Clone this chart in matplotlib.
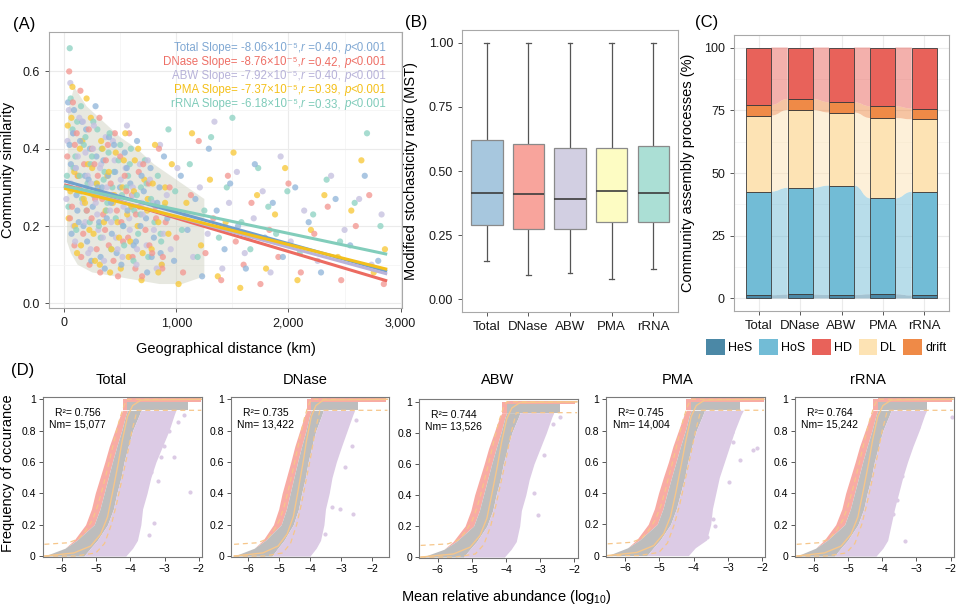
import numpy as np
import matplotlib.pyplot as plt
from matplotlib.patches import Patch, PathPatch
from matplotlib.path import Path
from matplotlib.offsetbox import TextArea, HPacker, AnchoredOffsetbox
from matplotlib.ticker import FuncFormatter, FormatStrFormatter

plt.rcParams['font.family'] = ['Liberation Sans', 'DejaVu Sans']
plt.rcParams['mathtext.fontset'] = 'custom'
plt.rcParams['mathtext.rm'] = 'Liberation Sans'
plt.rcParams['mathtext.it'] = 'Liberation Sans:italic'

GROUPS = ["Total", "DNase", "ABW", "PMA", "rRNA"]

# ---------------- (A) distance-decay scatter ----------------
TOTAL_X = [35, 60, 80, 110, 130, 160, 185, 205, 230, 255, 280, 300, 325, 350, 380, 400, 425, 455, 480, 510,
           540, 565, 590, 620, 650, 680, 710, 740, 770, 800, 830, 860, 890, 920,
           980, 1040, 1100, 1170, 1230, 1290, 1360, 1430, 1480, 1550, 1620, 1700, 1790, 1860, 1950, 2060,
           2180, 2290, 2420, 2550, 2680, 2800,
           22, 48, 66, 88, 102, 118, 142, 155, 172, 196, 218, 242, 262, 288, 312, 338, 362, 392, 418, 445,
           468, 498, 528, 558, 600, 640, 690, 730, 780, 850]
TOTAL_Y = [0.52, 0.36, 0.44, 0.28, 0.21, 0.47, 0.33, 0.16, 0.40, 0.25, 0.51, 0.30, 0.12, 0.37, 0.22, 0.43, 0.18, 0.34, 0.27, 0.10,
           0.39, 0.24, 0.31, 0.15, 0.42, 0.20, 0.29, 0.08, 0.35, 0.17, 0.26, 0.13, 0.38, 0.22,
           0.11, 0.33, 0.19, 0.27, 0.07, 0.40, 0.24, 0.14, 0.31, 0.20, 0.09, 0.36, 0.17, 0.26, 0.12, 0.30,
           0.21, 0.08, 0.27, 0.15, 0.33, 0.11,
           0.30, 0.41, 0.18, 0.50, 0.35, 0.24, 0.42, 0.29, 0.20, 0.45, 0.32, 0.11, 0.28, 0.38, 0.21, 0.30, 0.09, 0.33, 0.26, 0.41,
           0.13, 0.30, 0.20, 0.35, 0.25, 0.16, 0.33, 0.22, 0.12, 0.30]
DNASE_X = [45, 70, 95, 120, 145, 170, 195, 220, 245, 270, 290, 315, 340, 365, 390, 415, 440, 470, 500, 525,
           555, 580, 610, 640, 665, 695, 725, 755, 785, 815, 845, 875, 905, 940,
           1000, 1060, 1130, 1200, 1260, 1330, 1400, 1460, 1530, 1600, 1670, 1750, 1830, 1910, 2000, 2110,
           2230, 2350, 2470, 2600, 2720, 2850,
           28, 52, 78, 92, 112, 132, 152, 178, 202, 226, 250, 276, 300, 322, 348, 372, 398, 428, 452, 480,
           510, 540, 570, 605, 635, 670, 705, 760, 820, 880]
DNASE_Y = [0.60, 0.25, 0.41, 0.33, 0.55, 0.18, 0.29, 0.45, 0.22, 0.36, 0.14, 0.48, 0.27, 0.19, 0.41, 0.31, 0.11, 0.24, 0.38, 0.16,
           0.29, 0.44, 0.12, 0.23, 0.34, 0.07, 0.19, 0.31, 0.13, 0.25, 0.40, 0.09, 0.21, 0.30,
           0.17, 0.08, 0.28, 0.42, 0.13, 0.22, 0.06, 0.33, 0.16, 0.10, 0.26, 0.05, 0.19, 0.12, 0.31, 0.08,
           0.18, 0.25, 0.06, 0.20, 0.28, 0.05,
           0.38, 0.22, 0.52, 0.15, 0.44, 0.30, 0.12, 0.36, 0.24, 0.10, 0.40, 0.27, 0.33, 0.08, 0.23, 0.37, 0.15, 0.28, 0.44, 0.07,
           0.21, 0.33, 0.17, 0.28, 0.09, 0.25, 0.36, 0.15, 0.22, 0.12]
ABW_X = [30, 55, 85, 105, 135, 165, 190, 215, 240, 265, 295, 320, 345, 370, 395, 420, 450, 475, 505, 530,
         560, 585, 615, 645, 675, 700, 735, 765, 795, 825, 855, 885, 915, 950,
         1010, 1080, 1150, 1210, 1280, 1340, 1410, 1470, 1540, 1610, 1690, 1770, 1840, 1930, 2020, 2140,
         2260, 2380, 2500, 2630, 2740, 2830,
         20, 42, 62, 80, 98, 122, 148, 168, 188, 210, 236, 258, 282, 305, 330, 356, 380, 410, 435, 462,
         490, 520, 548, 580, 612, 650, 695, 745, 800, 870]
ABW_Y = [0.42, 0.57, 0.20, 0.35, 0.48, 0.26, 0.39, 0.13, 0.31, 0.46, 0.23, 0.35, 0.17, 0.43, 0.28, 0.21, 0.37, 0.14, 0.32, 0.25,
         0.46, 0.19, 0.28, 0.10, 0.36, 0.23, 0.15, 0.32, 0.26, 0.09, 0.41, 0.18, 0.28, 0.14,
         0.35, 0.23, 0.12, 0.30, 0.18, 0.47, 0.09, 0.26, 0.34, 0.13, 0.22, 0.29, 0.08, 0.38, 0.16, 0.24,
         0.11, 0.33, 0.19, 0.27, 0.10, 0.23,
         0.27, 0.50, 0.31, 0.44, 0.16, 0.38, 0.29, 0.47, 0.21, 0.33, 0.14, 0.40, 0.26, 0.19, 0.36, 0.11, 0.30, 0.24, 0.42, 0.17,
         0.27, 0.12, 0.35, 0.22, 0.30, 0.14, 0.26, 0.37, 0.19, 0.10]
PMA_X = [40, 65, 90, 115, 140, 175, 200, 225, 250, 275, 305, 330, 355, 385, 410, 435, 460, 490, 520, 545,
         575, 600, 630, 655, 690, 715, 745, 780, 810, 840, 870, 900, 930, 960,
         1020, 1090, 1140, 1220, 1300, 1370, 1440, 1510, 1570, 1640, 1720, 1800, 1880, 1970, 2080, 2200,
         2320, 2440, 2560, 2650, 2760, 2860,
         32, 56, 74, 96, 124, 150, 162, 186, 212, 238, 262, 292, 318, 342, 370, 398, 422, 448, 476, 505,
         532, 562, 590, 622, 660, 700, 740, 790, 840, 900]
PMA_Y = [0.22, 0.48, 0.34, 0.13, 0.40, 0.27, 0.53, 0.19, 0.35, 0.11, 0.29, 0.42, 0.21, 0.33, 0.08, 0.26, 0.39, 0.17, 0.30, 0.44,
         0.12, 0.25, 0.37, 0.20, 0.06, 0.32, 0.27, 0.14, 0.41, 0.21, 0.10, 0.30, 0.18, 0.36,
         0.05, 0.26, 0.44, 0.15, 0.32, 0.07, 0.21, 0.39, 0.04, 0.17, 0.28, 0.09, 0.23, 0.35, 0.06, 0.19,
         0.28, 0.12, 0.24, 0.37, 0.08, 0.14,
         0.46, 0.29, 0.56, 0.20, 0.33, 0.15, 0.42, 0.26, 0.36, 0.48, 0.18, 0.31, 0.10, 0.40, 0.24, 0.34, 0.14, 0.28, 0.21, 0.09,
         0.37, 0.23, 0.16, 0.29, 0.40, 0.13, 0.24, 0.31, 0.08, 0.26]
RRNA_X = [25, 50, 75, 100, 125, 150, 175, 200, 235, 260, 285, 310, 335, 360, 385, 405, 430, 460, 485, 515,
          535, 570, 595, 625, 660, 685, 720, 750, 775, 805, 835, 865, 895, 930,
          990, 1050, 1120, 1190, 1250, 1310, 1380, 1450, 1500, 1580, 1660, 1730, 1820, 1890, 1990, 2100,
          2220, 2340, 2460, 2590, 2700, 2820,
          38, 58, 84, 108, 116, 138, 160, 190, 208, 228, 248, 270, 296, 326, 352, 378, 396, 420, 444, 472,
          500, 525, 555, 585, 618, 648, 680, 735, 790, 860]
RRNA_Y = [0.33, 0.66, 0.45, 0.38, 0.29, 0.51, 0.41, 0.24, 0.36, 0.47, 0.31, 0.20, 0.40, 0.34, 0.26, 0.44, 0.30, 0.22, 0.37, 0.28,
          0.15, 0.33, 0.40, 0.24, 0.18, 0.30, 0.37, 0.12, 0.27, 0.21, 0.33, 0.16, 0.25, 0.45,
          0.29, 0.19, 0.36, 0.12, 0.24, 0.43, 0.17, 0.30, 0.48, 0.21, 0.14, 0.35, 0.25, 0.18, 0.29, 0.13,
          0.23, 0.32, 0.16, 0.26, 0.44, 0.20,
          0.25, 0.53, 0.35, 0.19, 0.47, 0.33, 0.27, 0.43, 0.31, 0.21, 0.38, 0.28, 0.45, 0.17, 0.32, 0.24, 0.39, 0.14, 0.34, 0.27,
          0.41, 0.20, 0.30, 0.36, 0.11, 0.28, 0.23, 0.31, 0.26, 0.18]

# outline of the dense core of the point cloud
CLOUD_X = [25, 35, 90, 200, 350, 500, 650, 800, 950, 1100, 1250, 1250, 1050, 850, 650, 450, 250, 120, 60, 25]
CLOUD_Y = [0.16, 0.50, 0.56, 0.51, 0.47, 0.43, 0.40, 0.36, 0.33, 0.30, 0.27, 0.07, 0.05, 0.05, 0.06, 0.07, 0.08, 0.10, 0.13, 0.16]

# fitted lines, read at both ends (km)
LINE_X = [0, 2880]
LINE_START = [0.317, 0.307, 0.303, 0.298, 0.304]
LINE_END = [0.083, 0.058, 0.076, 0.088, 0.127]
SLOPE_TXT = ["-8.06", "-8.76", "-7.92", "-7.37", "-6.18"]
R_TXT = ["0.40", "0.42", "0.40", "0.39", "0.33"]

POINT_COLORS = ["#93b7da", "#f39892", "#c6c1e0", "#f8c93a", "#8fd3c3"]
LINE_COLORS = ["#6f9fcc", "#ec6b61", "#b9b3d9", "#f3bf1c", "#82cdbb"]
TEXT_COLORS = ["#80a8d3", "#ee6f66", "#b7b2d9", "#f4c01a", "#7ecbb9"]

# ---------------- (B) MST boxplots ----------------
BOX_LO = [0.150, 0.094, 0.104, 0.078, 0.116]
BOX_Q1 = [0.289, 0.272, 0.272, 0.300, 0.300]
BOX_MED = [0.414, 0.411, 0.390, 0.421, 0.416]
BOX_Q3 = [0.620, 0.604, 0.588, 0.588, 0.598]
BOX_HI = [1.0, 1.0, 1.0, 1.0, 1.0]
BOX_COLORS = ["#a7c7de", "#f8a49c", "#d2cfe2", "#fdfcc3", "#abdfd5"]

# ---------------- (C) assembly processes (%) ----------------
PROCESSES = ["HeS", "HoS", "DL", "drift", "HD"]          # stacking order, bottom to top
HES = [1.3, 1.6, 1.4, 1.7, 1.2]
HOS = [41.3, 42.5, 43.6, 38.2, 41.3]
DL = [30.3, 31.0, 29.1, 32.0, 28.9]
DRIFT = [4.2, 4.4, 4.1, 4.7, 4.3]
HD = [22.9, 20.5, 21.8, 23.4, 24.3]
PROC_COLORS = {"HeS": "#4b88a6", "HoS": "#72bcd6", "HD": "#e8625a", "DL": "#fde3b4", "drift": "#ef8a47"}
LEGEND_ORDER = ["HeS", "HoS", "HD", "DL", "drift"]

# ---------------- (D) neutral community model ----------------
R2 = ["0.756", "0.735", "0.744", "0.745", "0.764"]
NM = ["15,077", "13,422", "13,526", "14,004", "15,242"]
D_XMAX = [-1.9, -1.45, -1.9, -1.92, -1.9]

BAND_Y = [0.0, 0.05, 0.1, 0.2, 0.3, 0.4, 0.5, 0.6, 0.7, 0.8, 0.9, 0.93]
PINK_LEFT = [
    [-6.50, -5.90, -5.64, -5.30, -5.13, -5.02, -4.88, -4.74, -4.61, -4.45, -4.29, -4.22],
    [-6.45, -5.80, -5.52, -5.18, -5.01, -4.90, -4.76, -4.62, -4.49, -4.33, -4.17, -4.10],
    [-6.45, -5.82, -5.55, -5.20, -5.03, -4.92, -4.78, -4.64, -4.51, -4.35, -4.19, -4.12],
    [-6.50, -5.92, -5.66, -5.32, -5.14, -5.02, -4.88, -4.73, -4.60, -4.44, -4.28, -4.21],
    [-6.50, -5.95, -5.70, -5.36, -5.18, -5.07, -4.93, -4.79, -4.66, -4.50, -4.34, -4.27],
]
GRAY_LEFT = [
    [-6.50, -5.90, -5.56, -5.05, -4.88, -4.76, -4.64, -4.52, -4.39, -4.25, -4.13, -4.08],
    [-6.45, -5.80, -5.44, -4.93, -4.76, -4.64, -4.52, -4.40, -4.27, -4.13, -4.01, -3.96],
    [-6.45, -5.82, -5.46, -4.95, -4.78, -4.66, -4.54, -4.42, -4.29, -4.15, -4.03, -3.98],
    [-6.50, -5.92, -5.57, -5.06, -4.89, -4.77, -4.64, -4.51, -4.38, -4.24, -4.12, -4.07],
    [-6.50, -5.95, -5.61, -5.10, -4.93, -4.81, -4.69, -4.57, -4.44, -4.30, -4.18, -4.13],
]
GRAY_RIGHT = [
    [-5.35, -5.16, -4.96, -4.66, -4.49, -4.39, -4.27, -4.18, -4.06, -3.93, -3.74, -3.69],
    [-5.23, -5.04, -4.84, -4.54, -4.37, -4.27, -4.15, -4.06, -3.94, -3.81, -3.62, -3.57],
    [-5.25, -5.06, -4.86, -4.56, -4.39, -4.29, -4.17, -4.08, -3.96, -3.83, -3.64, -3.59],
    [-5.36, -5.17, -4.97, -4.67, -4.50, -4.38, -4.26, -4.17, -4.05, -3.92, -3.73, -3.68],
    [-5.40, -5.21, -5.01, -4.71, -4.54, -4.44, -4.32, -4.23, -4.11, -3.98, -3.79, -3.74],
]
PURPLE_RIGHT = [
    [-4.13, -3.93, -3.79, -3.69, -3.64, -3.51, -3.40, -3.25, -3.06, -2.87, -2.72, -2.67],
    [-4.00, -3.80, -3.66, -3.55, -3.50, -3.38, -3.29, -3.15, -2.98, -2.80, -2.62, -2.56],
    [-4.05, -3.85, -3.70, -3.60, -3.55, -3.42, -3.32, -3.18, -3.00, -2.82, -2.66, -2.60],
    [-4.15, -3.95, -3.62, -3.50, -3.45, -3.35, -3.25, -3.10, -2.95, -2.80, -2.62, -2.55],
    [-4.18, -3.98, -3.84, -3.74, -3.64, -3.52, -3.40, -3.26, -3.10, -2.92, -2.76, -2.70],
]
TOP_GRAY_END = [-2.32, -2.45, -2.41, -2.64, -2.70]
TOP_PINK_END = [-1.93, -1.54, -1.97, -1.96, -1.97]

FIT_Y = [0.0, 0.02, 0.064, 0.14, 0.25, 0.40, 0.59, 0.74, 0.89, 0.96, 0.995, 1.0]
FIT_X = [
    [-6.50, -5.64, -5.15, -4.86, -4.66, -4.52, -4.35, -4.23, -4.08, -3.93, -3.69, -1.93],
    [-6.45, -5.52, -5.03, -4.74, -4.54, -4.40, -4.23, -4.11, -3.96, -3.81, -3.57, -1.50],
    [-6.50, -5.54, -5.05, -4.76, -4.56, -4.42, -4.25, -4.13, -3.98, -3.83, -3.59, -1.92],
    [-6.50, -5.65, -5.16, -4.87, -4.67, -4.52, -4.35, -4.22, -4.07, -3.92, -3.68, -1.95],
    [-6.50, -5.69, -5.20, -4.91, -4.71, -4.57, -4.40, -4.28, -4.13, -3.98, -3.74, -1.93],
]
UPPER_Y = [0.075, 0.085, 0.11, 0.16, 0.23, 0.32, 0.42, 0.54, 0.65, 0.78, 0.88, 0.96, 1.0, 1.0]
UPPER_X = [
    [-6.50, -5.80, -5.50, -5.30, -5.10, -4.95, -4.82, -4.68, -4.56, -4.42, -4.30, -4.18, -4.08, -1.93],
    [-6.45, -5.68, -5.38, -5.18, -4.98, -4.83, -4.70, -4.56, -4.44, -4.30, -4.18, -4.06, -3.96, -1.50],
    [-6.50, -5.70, -5.40, -5.20, -5.00, -4.85, -4.72, -4.58, -4.46, -4.32, -4.20, -4.08, -3.98, -1.92],
    [-6.50, -5.80, -5.51, -5.31, -5.11, -4.95, -4.82, -4.68, -4.55, -4.41, -4.29, -4.17, -4.07, -1.95],
    [-6.50, -5.85, -5.55, -5.35, -5.15, -5.00, -4.87, -4.73, -4.61, -4.47, -4.35, -4.23, -4.13, -1.93],
]
LOWER_Y = [0.0, 0.0, 0.02, 0.08, 0.2, 0.33, 0.48, 0.63, 0.8, 0.93, 0.93]
LOWER_X = [
    [-6.50, -5.60, -5.00, -4.75, -4.55, -4.40, -4.25, -4.10, -3.95, -3.80, -1.93],
    [-6.45, -5.48, -4.88, -4.63, -4.43, -4.28, -4.13, -3.98, -3.83, -3.68, -1.50],
    [-6.50, -5.50, -4.90, -4.65, -4.45, -4.30, -4.15, -4.00, -3.85, -3.70, -1.92],
    [-6.50, -5.61, -5.01, -4.76, -4.56, -4.40, -4.25, -4.10, -3.94, -3.79, -1.95],
    [-6.50, -5.65, -5.05, -4.80, -4.60, -4.45, -4.30, -4.15, -4.00, -3.85, -1.93],
]
OUT_X = [
    [-2.27, -2.72, -3.01, -2.87, -3.40, -3.20, -3.30, -3.45, -3.10, -2.62, -2.42],
    [-2.60, -3.03, -3.29, -3.19, -2.66, -2.87, -3.50, -3.34, -2.50],
    [-3.05, -3.39, -2.90, -2.61, -2.41, -3.19, -3.58, -3.77],
    [-2.27, -2.16, -2.84, -2.98, -3.42, -3.37, -3.62, -2.64, -2.89],
    [-1.97, -3.33, -3.18, -2.94, -3.67, -3.57, -3.43, -3.28],
]
OUT_Y = [
    [0.407, 0.63, 0.70, 0.80, 0.535, 0.48, 0.21, 0.137, 0.63, 0.857, 0.90],
    [0.268, 0.30, 0.31, 0.674, 0.70, 0.567, 0.14, 0.80, 0.867],
    [0.27, 0.62, 0.655, 0.86, 0.90, 0.41, 0.56, 0.73],
    [0.675, 0.69, 0.73, 0.47, 0.235, 0.19, 0.118, 0.61, 0.79],
    [0.885, 0.096, 0.75, 0.825, 0.27, 0.36, 0.51, 0.70],
]

W, H = 960, 613


def box(left, top, right, bottom):
    return [left / W, 1 - bottom / H, (right - left) / W, (bottom - top) / H]


fig = plt.figure(figsize=(9.6, 6.13), dpi=100)

# ===== (A) =====
axA = fig.add_axes(box(49, 32, 402, 308))
axA.fill(CLOUD_X, CLOUD_Y, color="#d0d3c2", alpha=0.5, lw=0, zorder=1)
series = [(TOTAL_X, TOTAL_Y), (DNASE_X, DNASE_Y), (ABW_X, ABW_Y), (PMA_X, PMA_Y), (RRNA_X, RRNA_Y)]
all_x, all_y, all_c = [], [], []
for (xs, ys), col in zip(series, POINT_COLORS):
    all_x += xs
    all_y += ys
    all_c += [col] * len(xs)
# draw all groups in one pass with a shuffled (but fixed) order so colours mix
order = np.argsort(np.array(all_x) * 7 % 997)
axA.scatter(np.array(all_x)[order], np.array(all_y)[order], s=20,
            c=[all_c[i] for i in order], alpha=0.78, lw=0, zorder=2)
for i in range(5):
    axA.plot(LINE_X, [LINE_START[i], LINE_END[i]], color=LINE_COLORS[i], lw=2.2,
             solid_capstyle="butt", zorder=3)
text_y = [0.943, 0.891, 0.841, 0.790, 0.738]
for i, g in enumerate(GROUPS):
    col = TEXT_COLORS[i]
    parts = [(f"{g} Slope= {SLOPE_TXT[i]}×10⁻⁵,", "normal"), ("r", "italic"),
             (f" ={R_TXT[i]}, ", "normal"), ("p", "italic"), ("<0.001", "normal")]
    areas = [TextArea(t, textprops=dict(color=col, fontsize=8.3, style=st)) for t, st in parts]
    pack = HPacker(children=areas, align="baseline", pad=0, sep=0)
    anch = AnchoredOffsetbox(loc="center right", child=pack, pad=0, borderpad=0, frameon=False,
                             bbox_to_anchor=(0.955, text_y[i]), bbox_transform=axA.transAxes)
    anch.set_zorder(4)
    axA.add_artist(anch)
axA.set_xlim(-135, 3012)
axA.set_ylim(-0.012, 0.702)
axA.set_xticks([0, 1000, 2000, 3000])
axA.set_xticks([500, 1500, 2500], minor=True)
axA.set_yticks([0.0, 0.2, 0.4, 0.6])
axA.set_yticks([0.1, 0.3, 0.5], minor=True)
axA.xaxis.set_major_formatter(FuncFormatter(lambda v, p: f"{int(v):,}"))
axA.yaxis.set_major_formatter(FormatStrFormatter("%.1f"))
axA.grid(True, which="major", color="#ebebeb", lw=0.8)
axA.grid(True, which="minor", color="#f3f3f3", lw=0.5)
axA.tick_params(which="minor", length=0)
axA.set_axisbelow(True)
axA.set_xlabel("Geographical distance (km)", fontsize=10.5, labelpad=9)
axA.set_ylabel("Community similarity", fontsize=10.5)
axA.yaxis.set_label_coords((15 - 49) / 353, 0.5)

# ===== (B) =====
axB = fig.add_axes(box(462, 30, 678, 312))
stats = []
for i, g in enumerate(GROUPS):
    stats.append({"label": g, "whislo": BOX_LO[i], "q1": BOX_Q1[i], "med": BOX_MED[i],
                  "q3": BOX_Q3[i], "whishi": BOX_HI[i], "fliers": []})
bp = axB.bxp(stats, positions=range(1, 6), widths=0.75, patch_artist=True, showfliers=False,
             capwidths=0.12,
             boxprops=dict(edgecolor="#8a8a8a", lw=0.9),
             whiskerprops=dict(color="#555555", lw=0.9),
             capprops=dict(color="#555555", lw=0.9),
             medianprops=dict(color="#3c3c3c", lw=1.2))
for patch, col in zip(bp["boxes"], BOX_COLORS):
    patch.set_facecolor(col)
for w in bp["whiskers"]:
    w.set_zorder(0.5)
axB.set_xlim(0.4, 5.6)
axB.set_ylim(-0.05, 1.05)
axB.set_yticks([0, 0.25, 0.5, 0.75, 1.0])
axB.yaxis.set_major_formatter(FormatStrFormatter("%.2f"))
axB.set_ylabel("Modified stochasticity ratio (MST)", fontsize=10.5)
axB.yaxis.set_label_coords((418 - 462) / 216, 0.5)

# ===== (C) =====
axC = fig.add_axes(box(734, 35, 949, 311))
layers = {"HeS": HES, "HoS": HOS, "DL": DL, "drift": DRIFT, "HD": HD}
xpos = [1, 2, 3, 4, 5]
bar_w = 0.6
bottom = [0.0] * 5
for name in PROCESSES:
    vals = layers[name]
    tops = [b + v for b, v in zip(bottom, vals)]
    col = PROC_COLORS[name]
    for i in range(4):
        x0, x1 = xpos[i] + bar_w / 2, xpos[i + 1] - bar_w / 2
        xm = (x0 + x1) / 2
        verts = [(x0, bottom[i]), (xm, bottom[i]), (xm, bottom[i + 1]), (x1, bottom[i + 1]),
                 (x1, tops[i + 1]), (xm, tops[i + 1]), (xm, tops[i]), (x0, tops[i]), (x0, bottom[i])]
        codes = [Path.MOVETO, Path.CURVE4, Path.CURVE4, Path.CURVE4,
                 Path.LINETO, Path.CURVE4, Path.CURVE4, Path.CURVE4, Path.CLOSEPOLY]
        axC.add_patch(PathPatch(Path(verts, codes), facecolor=col, alpha=0.5, lw=0, zorder=1))
    axC.bar(xpos, vals, bottom=bottom, width=bar_w, color=col, edgecolor="#3a3a3a",
            lw=0.6, zorder=2)
    bottom = tops
axC.set_xlim(0.4, 5.6)
axC.set_ylim(-5, 105)
axC.set_xticks(xpos)
axC.set_xticklabels(GROUPS)
axC.set_yticks([0, 25, 50, 75, 100])
axC.set_yticks([12.5, 37.5, 62.5, 87.5], minor=True)
axC.grid(True, which="major", color="#ebebeb", lw=0.8)
axC.grid(True, which="minor", axis="y", color="#f3f3f3", lw=0.5)
axC.tick_params(which="minor", length=0)
axC.set_axisbelow(True)
axC.set_ylabel("Community assembly processes (%)", fontsize=10.5)
axC.yaxis.set_label_coords((695 - 734) / 215, 0.5)
handles = [Patch(facecolor=PROC_COLORS[n], edgecolor="none", label=n) for n in LEGEND_ORDER]
fig.legend(handles=handles, loc="center", bbox_to_anchor=(826 / W, 1 - 347 / H), ncol=5,
           frameon=False, fontsize=9, handlelength=1.5, handleheight=1.5,
           handletextpad=0.25, columnspacing=0.55, borderaxespad=0)

for ax in (axA, axB, axC):
    for sp in ax.spines.values():
        sp.set_color("#a8a8a8")
        sp.set_linewidth(0.8)
    ax.tick_params(which="major", length=3, color="#555555", labelsize=9,
                   labelcolor="#1a1a1a", width=0.7)
axB.tick_params(axis="x", labelsize=9.5)
axC.tick_params(axis="x", labelsize=9.5)

# ===== (D) =====
d_boxes = [box(42.7, 396.5, 202.3, 557), box(231, 396.5, 389, 557), box(419, 399, 577.7, 558),
           box(606, 396.5, 765, 556.5), box(795, 396.5, 954, 557)]
title_x = [111, 305, 498, 678, 868]
pink, gray, purple, fitc = "#f8aba4", "#bdbdbd", "#dccbe5", "#f6c68a"
for k, g in enumerate(GROUPS):
    ax = fig.add_axes(d_boxes[k])
    ax.fill_betweenx(BAND_Y, PINK_LEFT[k], GRAY_LEFT[k], color=pink, lw=0)
    ax.fill_betweenx(BAND_Y, GRAY_LEFT[k], GRAY_RIGHT[k], color=gray, lw=0)
    ax.fill_betweenx(BAND_Y, GRAY_RIGHT[k], PURPLE_RIGHT[k], color=purple, lw=0)
    ax.fill_between([PINK_LEFT[k][-1], GRAY_LEFT[k][-1]], 0.93, 1.0, color=pink, lw=0)
    ax.fill_between([GRAY_LEFT[k][-1], TOP_GRAY_END[k]], 0.93, 0.985, color=gray, lw=0)
    ax.fill_between([GRAY_LEFT[k][-1], TOP_PINK_END[k]], 0.985, 1.008, color=pink, lw=0)
    ax.scatter(OUT_X[k], OUT_Y[k], s=9, color=purple, lw=0)
    ax.plot(FIT_X[k], FIT_Y, color=fitc, lw=1.0)
    ax.plot(UPPER_X[k], UPPER_Y, color=fitc, lw=0.9, ls=(0, (4, 3)))
    ax.plot(LOWER_X[k], LOWER_Y, color=fitc, lw=0.9, ls=(0, (4, 3)))
    ax.set_xlim(-6.55, D_XMAX[k])
    ax.set_ylim(-0.006, 1.018)
    ax.set_xticks([-6, -5, -4, -3, -2])
    ax.set_yticks([0, 0.2, 0.4, 0.6, 0.8, 1.0])
    ax.set_yticklabels(["0", "0.2", "0.4", "0.6", "0.8", "1"])
    ax.tick_params(length=3, labelsize=7.5, color="#555555", width=0.7, pad=2)
    for sp in ax.spines.values():
        sp.set_color("#7a7a7a")
        sp.set_linewidth(0.8)
    ax.text(0.22, 0.90, f"R²= {R2[k]}", transform=ax.transAxes, ha="center", va="center", fontsize=7.5)
    ax.text(0.22, 0.827, f"Nm= {NM[k]}", transform=ax.transAxes, ha="center", va="center", fontsize=7.5)
    fig.text(title_x[k] / W, 1 - 380 / H, g, ha="center", va="center", fontsize=10.5)

fig.text(8 / W, 1 - 473 / H, "Frequency of occurance", rotation=90, ha="center", va="center", fontsize=10.5)
fig.text(506 / W, 1 - 597 / H, "Mean relative abundance (log$_{10}$)", ha="center", va="center", fontsize=10.5)

# panel tags
for tag, x, y in [("(A)", 24, 24), ("(B)", 416, 22), ("(C)", 707, 22), ("(D)", 23, 370)]:
    fig.text(x / W, 1 - y / H, tag, ha="center", va="center", fontsize=12)

fig.savefig("out.png", dpi=100)
